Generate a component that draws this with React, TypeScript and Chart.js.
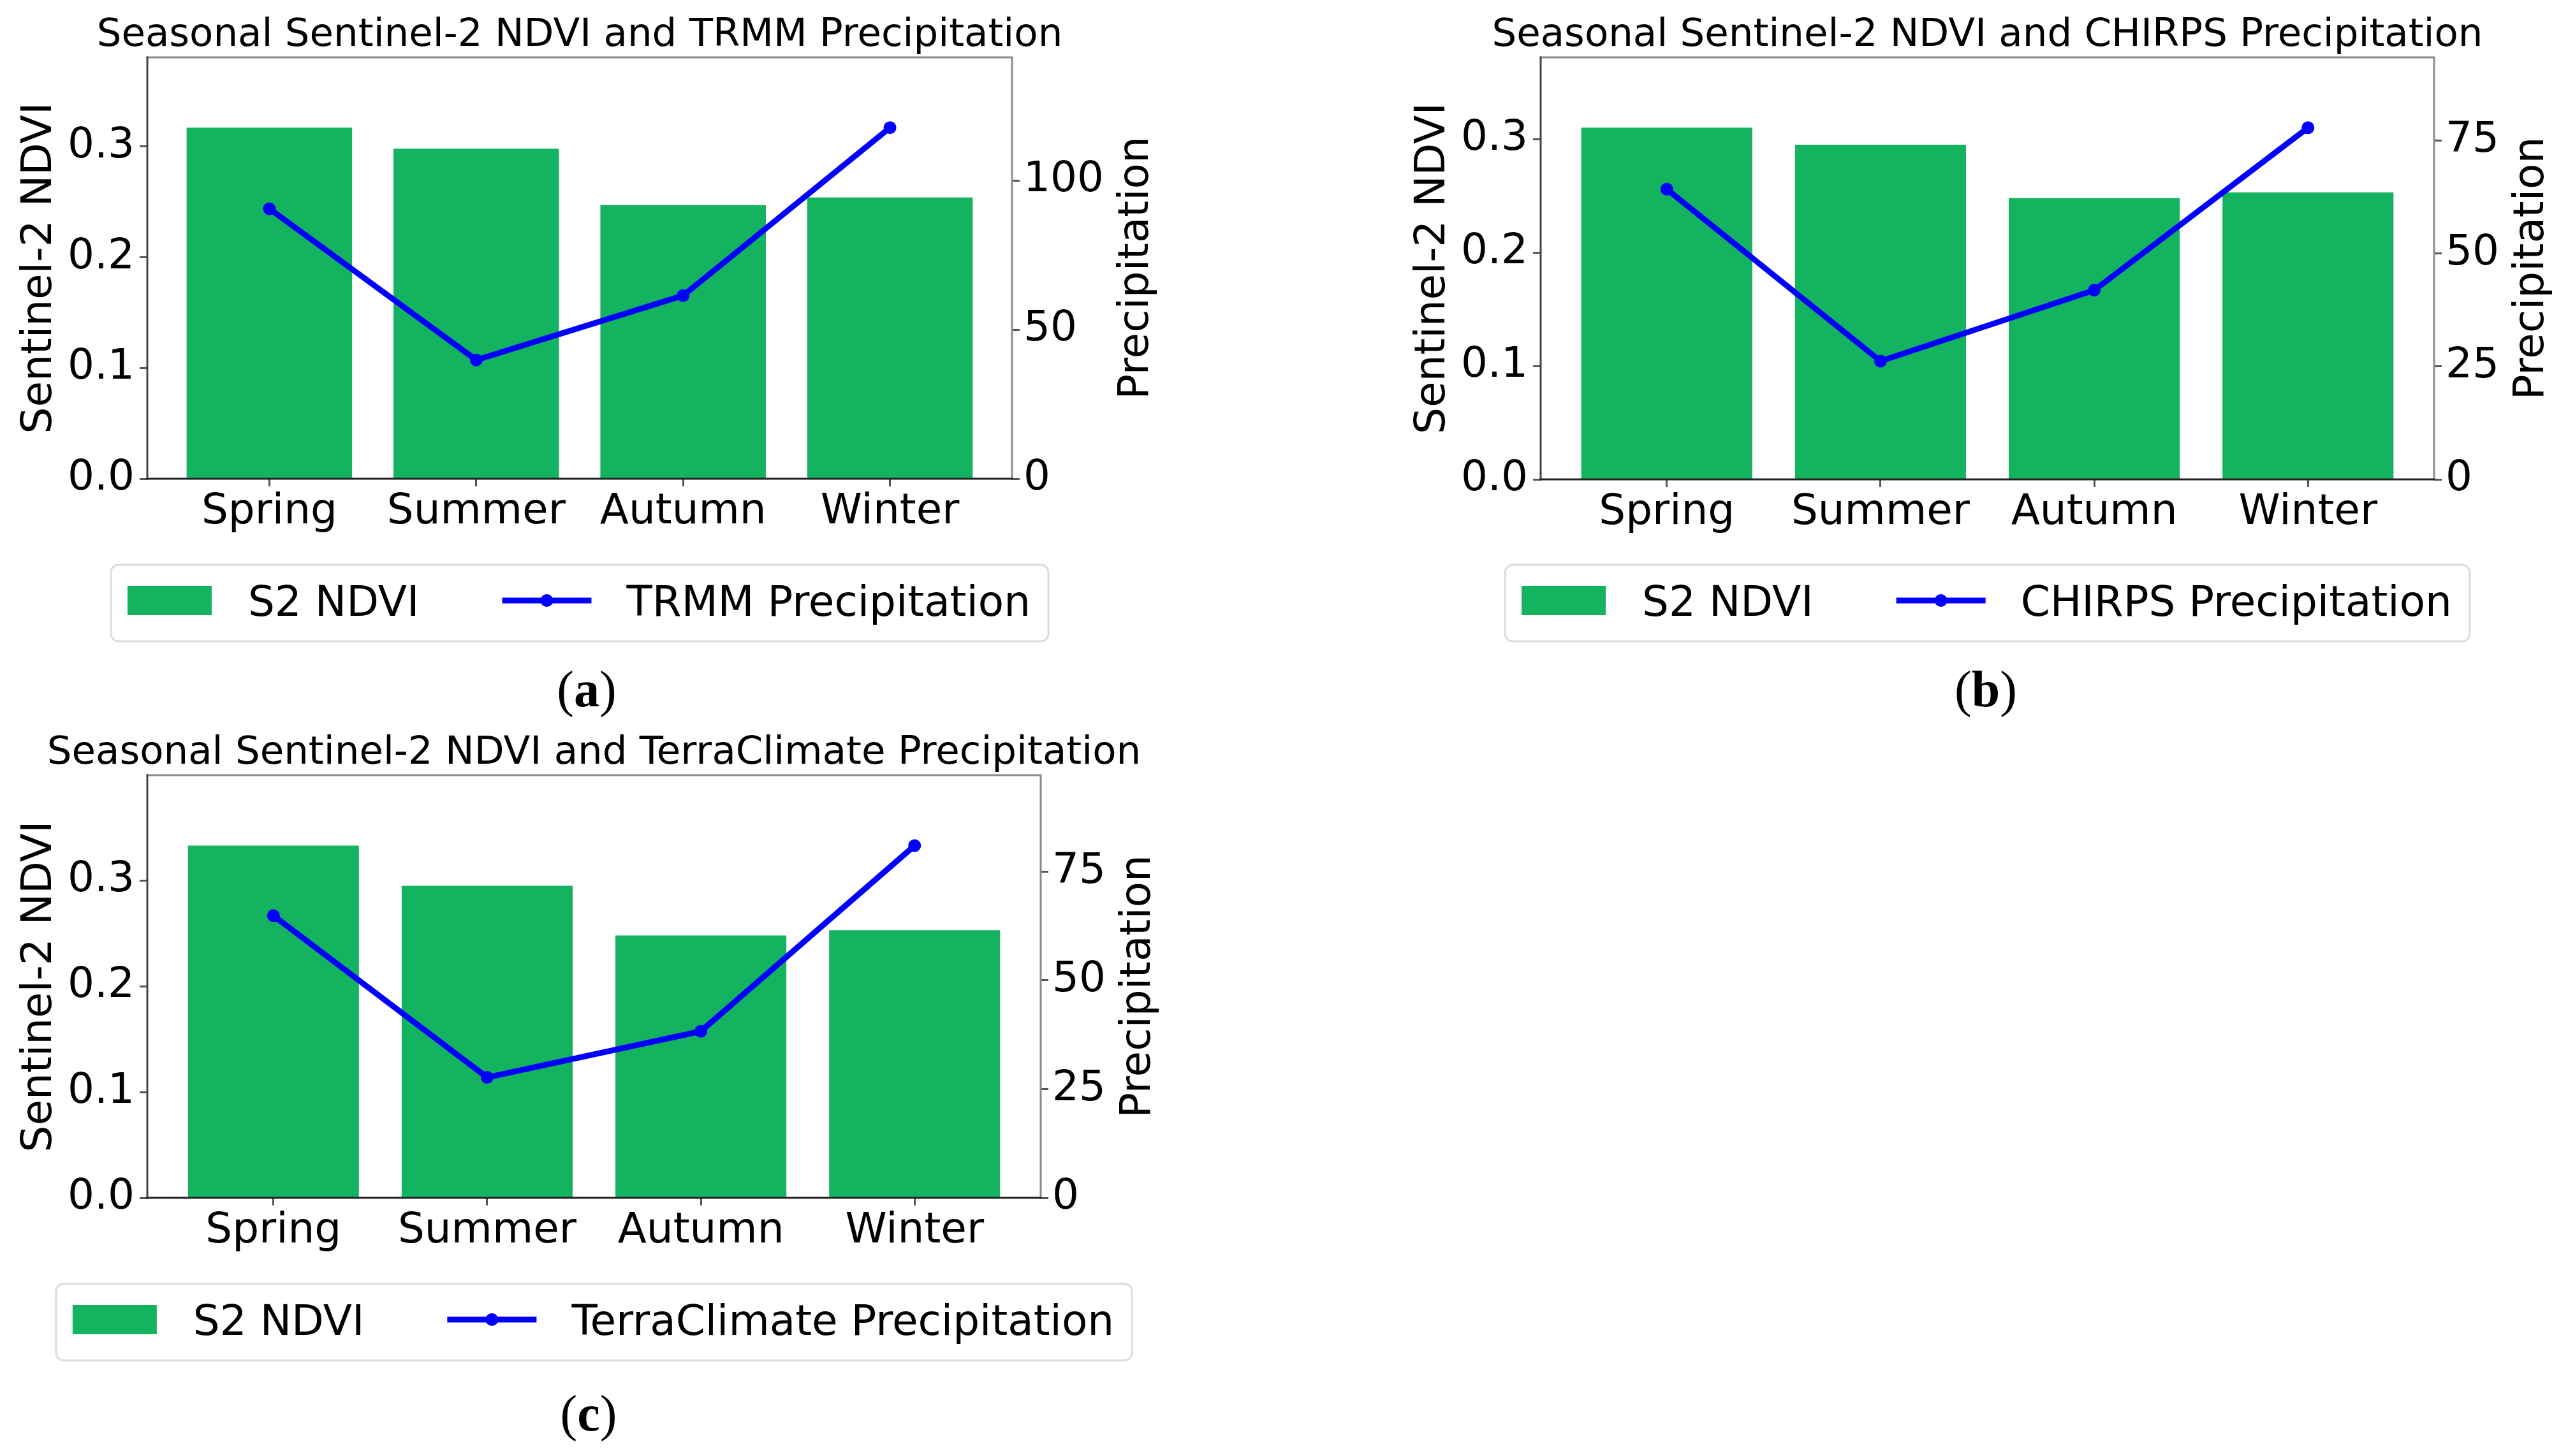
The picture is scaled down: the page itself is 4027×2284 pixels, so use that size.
import React, { useEffect, useRef } from "react";
import { Chart, registerables } from "chart.js";

Chart.register(...registerables);

// ---------------- data ----------------
const seasons = ["Spring", "Summer", "Autumn", "Winter"];

const ndviTRMM = [0.317, 0.298, 0.247, 0.254];
const precipTRMM = [90.5, 39.8, 61.4, 117.7];

const ndviCHIRPS = [0.31, 0.295, 0.248, 0.253];
const precipCHIRPS = [64.3, 26.2, 41.9, 77.9];

const ndviTerra = [0.333, 0.295, 0.248, 0.253];
const precipTerra = [64.9, 27.7, 38.3, 81.0];

const ndviAxisLabel = "Sentinel-2 NDVI";
const precipAxisLabel = "Precipitation";
const ndviLegendLabel = "S2 NDVI";

// ---------------- style ----------------
const FONT = "'DejaVu Sans', 'Liberation Sans', sans-serif";
const SERIF = "'Liberation Serif', 'DejaVu Serif', serif";
const GREEN = "rgb(20,179,96)";
const BLUE = "#0000ff";
const PAGE_W = 4027;
const PAGE_H = 2284;
const Y_W = 200;
const Y1_W = 200;
const X_H = 100;

type Panel = {
  key: string;
  title: string;
  ndvi: number[];
  precip: number[];
  precipLegend: string;
  rightStep: number;
  box: { left: number; top: number; width: number; height: number };
  area: { left: number; right: number; top: number; bottom: number };
  captionX: number;
  captionBase: number;
  legendTop: number;
};

const PANELS: Panel[] = [
  {
    key: "a",
    title: "Seasonal Sentinel-2 NDVI and TRMM Precipitation",
    ndvi: ndviTRMM,
    precip: precipTRMM,
    precipLegend: "TRMM Precipitation",
    rightStep: 50,
    box: { left: 0, top: 0, width: 2013, height: 1142 },
    area: { left: 231, right: 1587, top: 90, bottom: 751 },
    captionX: 920,
    captionBase: 1108,
    legendTop: 886,
  },
  {
    key: "b",
    title: "Seasonal Sentinel-2 NDVI and CHIRPS Precipitation",
    ndvi: ndviCHIRPS,
    precip: precipCHIRPS,
    precipLegend: "CHIRPS Precipitation",
    rightStep: 25,
    box: { left: 2013, top: 0, width: 2014, height: 1142 },
    area: { left: 403, right: 1804, top: 90, bottom: 752 },
    captionX: 1101,
    captionBase: 1108,
    legendTop: 886,
  },
  {
    key: "c",
    title: "Seasonal Sentinel-2 NDVI and TerraClimate Precipitation",
    ndvi: ndviTerra,
    precip: precipTerra,
    precipLegend: "TerraClimate Precipitation",
    rightStep: 25,
    box: { left: 0, top: 1142, width: 2013, height: 1142 },
    area: { left: 231, right: 1632, top: 74, bottom: 737 },
    captionX: 923,
    captionBase: 1102,
    legendTop: 872,
  },
];

function makeOverlay(p: Panel) {
  return {
    id: "overlay_" + p.key,
    afterDraw(chart: any) {
      const { ctx, chartArea: a } = chart;
      const cx = (a.left + a.right) / 2;
      const cy = (a.top + a.bottom) / 2;
      ctx.save();

      // frame
      ctx.lineWidth = 3;
      ctx.lineCap = "square";
      ctx.strokeStyle = "#8a8a8a";
      ctx.beginPath();
      ctx.moveTo(a.left, a.top);
      ctx.lineTo(a.right, a.top);
      ctx.lineTo(a.right, a.bottom);
      ctx.stroke();
      ctx.strokeStyle = "#444";
      ctx.beginPath();
      ctx.moveTo(a.left, a.top);
      ctx.lineTo(a.left, a.bottom);
      ctx.stroke();
      ctx.strokeStyle = "#222";
      ctx.beginPath();
      ctx.moveTo(a.left, a.bottom);
      ctx.lineTo(a.right, a.bottom);
      ctx.stroke();

      ctx.fillStyle = "#000";
      ctx.textAlign = "center";
      ctx.textBaseline = "alphabetic";

      // title
      ctx.font = `61px ${FONT}`;
      ctx.fillText(p.title, cx, a.top - 18);

      // axis titles
      ctx.font = `66px ${FONT}`;
      ctx.save();
      ctx.translate(a.left - 151, cy);
      ctx.rotate(-Math.PI / 2);
      ctx.fillText(ndviAxisLabel, 0, 0);
      ctx.restore();

      const s1 = chart.scales.y1;
      let maxW = 0;
      for (const t of s1.ticks) {
        maxW = Math.max(maxW, ctx.measureText(String(t.label)).width);
      }
      ctx.save();
      ctx.translate(a.right + 20 + maxW + 67, cy);
      ctx.rotate(-Math.PI / 2);
      ctx.fillText(precipAxisLabel, 0, 0);
      ctx.restore();

      // legend
      ctx.font = `66px ${FONT}`;
      const w1 = ctx.measureText(ndviLegendLabel).width;
      const w2 = ctx.measureText(p.precipLegend).width;
      const padL = 26, patchW = 132, patchH = 46, gap = 57, itemGap = 130, lineW = 140, gap2 = 55, padR = 28;
      const totalW = padL + patchW + gap + w1 + itemGap + lineW + gap2 + w2 + padR;
      const bx = cx - totalW / 2;
      const by = p.legendTop;
      const bh = 120;
      ctx.beginPath();
      ctx.roundRect(bx, by, totalW, bh, 12);
      ctx.fillStyle = "#fff";
      ctx.fill();
      ctx.lineWidth = 3;
      ctx.strokeStyle = "#dcdcdc";
      ctx.stroke();
      const my = by + 56;
      ctx.fillStyle = GREEN;
      ctx.fillRect(bx + padL, my - patchH / 2, patchW, patchH);
      ctx.fillStyle = "#000";
      ctx.textAlign = "left";
      const t1x = bx + padL + patchW + gap;
      ctx.fillText(ndviLegendLabel, t1x, my + 24);
      const lx = t1x + w1 + itemGap;
      ctx.strokeStyle = BLUE;
      ctx.lineWidth = 9;
      ctx.lineCap = "butt";
      ctx.beginPath();
      ctx.moveTo(lx, my);
      ctx.lineTo(lx + lineW, my);
      ctx.stroke();
      ctx.fillStyle = BLUE;
      ctx.beginPath();
      ctx.arc(lx + lineW / 2, my, 10, 0, Math.PI * 2);
      ctx.fill();
      ctx.fillStyle = "#000";
      ctx.fillText(p.precipLegend, lx + lineW + gap2, my + 24);

      // caption "(x)"
      const reg = `80px ${SERIF}`;
      const bold = `bold 80px ${SERIF}`;
      ctx.font = reg;
      const wp = ctx.measureText("(").width;
      const wq = ctx.measureText(")").width;
      ctx.font = bold;
      const wl = ctx.measureText(p.key).width;
      const total = wp + wl + wq;
      const x0 = p.captionX - total / 2;
      const base = p.captionBase;
      ctx.textAlign = "left";
      ctx.font = reg;
      ctx.fillText("(", x0, base);
      ctx.font = bold;
      ctx.fillText(p.key, x0 + wp, base);
      ctx.font = reg;
      ctx.fillText(")", x0 + wp + wl, base);

      ctx.restore();
    },
  };
}

function PanelChart({ p }: { p: Panel }) {
  const ref = useRef<HTMLCanvasElement | null>(null);
  useEffect(() => {
    if (!ref.current) return;
    const n = seasons.length;
    const span = n - 1 + 0.8;
    const xMin = -0.4 - 0.05 * span;
    const xMax = n - 1 + 0.4 + 0.05 * span;
    const yMax = Math.max(...p.ndvi) * 1.2;
    const y1Max = Math.max(...p.precip) * 1.2;
    const padding = {
      left: p.area.left - Y_W,
      right: p.box.width - p.area.right - Y1_W,
      top: p.area.top,
      bottom: p.box.height - p.area.bottom - X_H,
    };
    const tickFont = { family: FONT, size: 66, lineHeight: 1 };
    const grid = {
      drawOnChartArea: false,
      drawTicks: true,
      tickLength: 12,
      tickWidth: 3,
      tickColor: "#555",
      offset: false,
    };
    const chart = new Chart(ref.current, {
      type: "bar",
      data: {
        datasets: [
          {
            type: "line",
            label: p.precipLegend,
            data: p.precip.map((v, i) => ({ x: i, y: v })),
            xAxisID: "x",
            yAxisID: "y1",
            borderColor: BLUE,
            backgroundColor: BLUE,
            borderWidth: 9,
            pointRadius: 10,
            pointBorderWidth: 0,
            pointBackgroundColor: BLUE,
            tension: 0,
            order: 0,
          } as any,
          {
            type: "bar",
            label: ndviLegendLabel,
            data: p.ndvi.map((v, i) => ({ x: i, y: v })),
            xAxisID: "x",
            yAxisID: "y",
            backgroundColor: GREEN,
            borderWidth: 0,
            barPercentage: 0.8,
            categoryPercentage: 1,
            order: 1,
          } as any,
        ],
      },
      options: {
        animation: false,
        responsive: true,
        maintainAspectRatio: false,
        events: [],
        layout: { padding },
        plugins: {
          legend: { display: false },
          title: { display: false },
          tooltip: { enabled: false },
        },
        scales: {
          x: {
            type: "linear",
            position: "bottom",
            min: xMin,
            max: xMax,
            offset: false,
            afterBuildTicks: (s: any) => {
              s.ticks = seasons.map((_, i) => ({ value: i }));
            },
            afterFit: (s: any) => {
              s.height = X_H;
            },
            ticks: {
              callback: (v: any) => seasons[Number(v)] ?? "",
              font: tickFont,
              color: "#000",
              padding: 8,
              maxRotation: 0,
              minRotation: 0,
              autoSkip: false,
            },
            grid,
            border: { display: false },
          },
          y: {
            type: "linear",
            position: "left",
            min: 0,
            max: yMax,
            afterFit: (s: any) => {
              s.width = Y_W;
            },
            ticks: {
              stepSize: 0.1,
              includeBounds: false,
              callback: (v: any) => Number(v).toFixed(1),
              font: tickFont,
              color: "#000",
              padding: 8,
            },
            grid,
            border: { display: false },
          },
          y1: {
            type: "linear",
            position: "right",
            min: 0,
            max: y1Max,
            afterFit: (s: any) => {
              s.width = Y1_W;
            },
            ticks: {
              stepSize: p.rightStep,
              includeBounds: false,
              callback: (v: any) => String(Math.round(Number(v))),
              font: tickFont,
              color: "#000",
              padding: 6,
            },
            grid,
            border: { display: false },
          },
        },
      } as any,
      plugins: [makeOverlay(p)],
    });
    return () => chart.destroy();
  }, [p]);

  return (
    <div
      style={{
        position: "absolute",
        left: p.box.left,
        top: p.box.top,
        width: p.box.width,
        height: p.box.height,
      }}
    >
      <canvas ref={ref} />
    </div>
  );
}

export default function App() {
  return (
    <div
      style={{
        position: "absolute",
        left: 0,
        top: 0,
        width: PAGE_W,
        height: PAGE_H,
        background: "#fff",
        overflow: "hidden",
      }}
    >
      {PANELS.map((p) => (
        <PanelChart key={p.key} p={p} />
      ))}
    </div>
  );
}
